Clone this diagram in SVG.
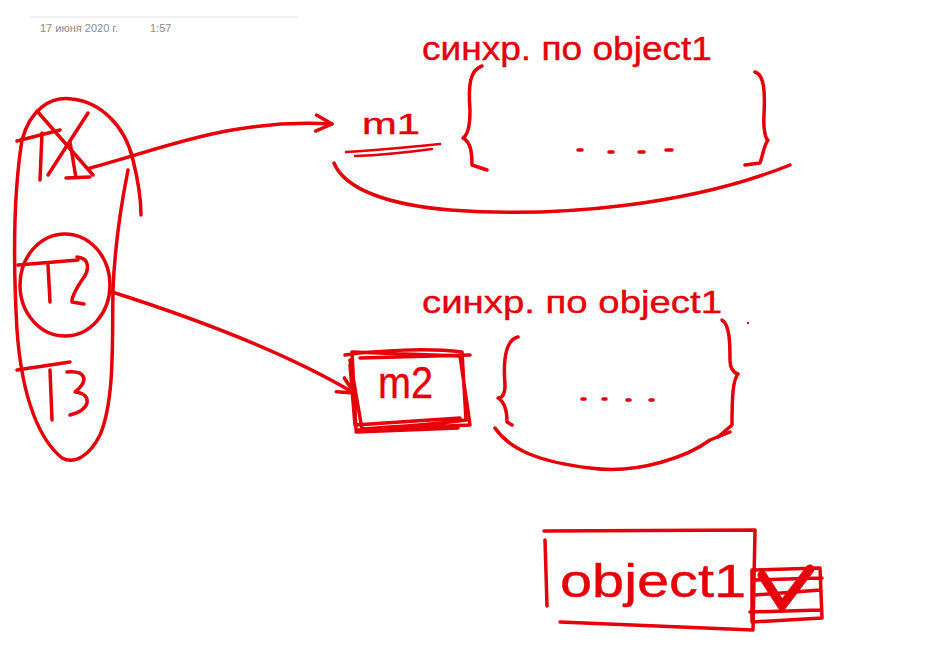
<svg xmlns="http://www.w3.org/2000/svg" width="948" height="661" viewBox="0 0 948 661">
<style>
.ink{fill:none;stroke:#e5000a;stroke-width:3.5;stroke-linecap:round;stroke-linejoin:round}
.thin{stroke-width:2.5}
.hw{fill:#e5000a;font-family:"Liberation Sans",sans-serif;stroke:#e5000a;stroke-width:0.4}
.hdr{fill:#8a8a8a;font-family:"Liberation Sans",sans-serif;font-size:11px}
</style>
<defs>
<marker id="ah" viewBox="0 0 20 20" refX="18" refY="10" markerWidth="20" markerHeight="20" markerUnits="userSpaceOnUse" orient="auto">
<path d="M2,2 L18,10 L2,18" fill="none" stroke="#e5000a" stroke-width="3.5" stroke-linecap="round" stroke-linejoin="round"/>
</marker>
</defs>
<rect width="948" height="661" fill="#ffffff"/>
<g id="header">
<line x1="30" y1="17" x2="298" y2="17" stroke="#e2e2e2" stroke-width="1"/>
<text class="hdr" x="40" y="32">17 июня 2020 г.</text>
<text class="hdr" x="150" y="32">1:57</text>
</g>
<g id="threads">
<path class="ink" d="M128,170 C122,200 115,240 113,290 C112,340 115,400 100,435 C90,455 75,465 62,458 C40,440 22,400 17,330 C13,260 14,190 22,140 C30,110 50,96 72,99 C100,102 125,125 133,160 C138,180 141,200 141,215"/>
<path class="ink" d="M17,141 L60,130"/>
<path class="ink" d="M42,133 L40,180"/>
<path class="ink" d="M37,111 L93,175"/>
<path class="ink" d="M88,113 L48,175"/>
<path class="ink" d="M70,142 L76,178 M66,178 L90,177"/>
<ellipse class="ink" cx="65" cy="285" rx="45" ry="51"/>
<path class="ink" d="M18,265 L78,260"/>
<path class="ink" d="M48,265 L50,302"/>
<path class="ink" d="M77,257 C90,258 90,270 82,280 C75,290 71,300 72,302 L84,304"/>
<path class="ink" d="M17,370 L70,362"/>
<path class="ink" d="M50,370 L52,420"/>
<path class="ink" d="M67,372 C85,370 90,380 75,392 C92,393 92,410 70,415"/>
</g>
<g id="connectors">
<path class="ink" d="M90,168 C160,150 230,118 332,124" marker-end="url(#ah)"/>
<path class="ink" d="M112,292 C200,320 290,355 354,393" marker-end="url(#ah)"/>
</g>
<g id="sync1">
<text class="hw" x="422" y="60" font-size="34" textLength="290" lengthAdjust="spacingAndGlyphs">синхр. по object1</text>
<text class="hw" x="362" y="134" font-size="30" textLength="58" lengthAdjust="spacingAndGlyphs">m1</text>
<path class="ink thin" d="M346,152 C380,150 410,147 440,144 M355,156 C385,155 410,152 432,149"/>
<path class="ink" d="M482,66 C470,70 468,85 470,110 C470,125 468,135 463,138 C470,142 472,150 472,165 L487,170"/>
<path class="ink" d="M755,72 C765,75 765,95 764,115 C763,130 766,140 768,140 C764,145 763,155 760,163 L745,165"/>
<path class="ink" d="M578,150 L582,150 M609,152 L613,152 M639,152 L644,152 M666,150 L672,150"/>
<path class="ink" d="M334,163 C345,190 390,205 450,210 C560,218 690,205 790,165"/>
</g>
<g id="sync2">
<text class="hw" x="422" y="313" font-size="32" textLength="300" lengthAdjust="spacingAndGlyphs">синхр. по object1</text>
<path class="ink" d="M345,355 C380,350 430,348 462,352 L466,420 C430,425 390,427 362,429 L350,360 M352,352 L460,356 L470,425 L356,430 Z M350,365 L355,425 L460,418 M360,358 L470,355 M356,432 L458,428"/>
<text class="hw" x="378" y="398" font-size="44" textLength="55" lengthAdjust="spacingAndGlyphs">m2</text>
<path class="ink" d="M518,337 C505,340 503,360 505,385 C505,395 502,398 498,398 C505,402 507,410 507,422 L512,425"/>
<path class="ink" d="M722,320 C730,325 730,345 730,360 C730,370 735,373 738,374 C733,380 732,395 732,425 L718,437"/>
<path class="ink" d="M582,399 L585,399 M603,399 L606,399 M627,400 L630,400 M650,400 L653,400"/>
<path class="ink" d="M495,428 C510,450 540,462 590,468 C640,475 690,455 710,440 L730,432"/>
<circle cx="748" cy="323" r="1.2" fill="#e5000a"/>
</g>
<g id="object1">
<path class="ink" d="M544,531 L755,530 L753,630 L560,622"/>
<path class="ink" d="M545,540 L547,606"/>
<text class="hw" x="560" y="597" font-size="46" textLength="186" lengthAdjust="spacingAndGlyphs">object1</text>
<path class="ink" d="M752,570 L820,568 L822,618 L752,622 Z M752,580 L822,578 M755,595 L820,590 M750,612 L820,610"/>
<path class="ink" style="stroke-width:9" d="M762,575 L782,606 L810,569"/>
</g>
</svg>
